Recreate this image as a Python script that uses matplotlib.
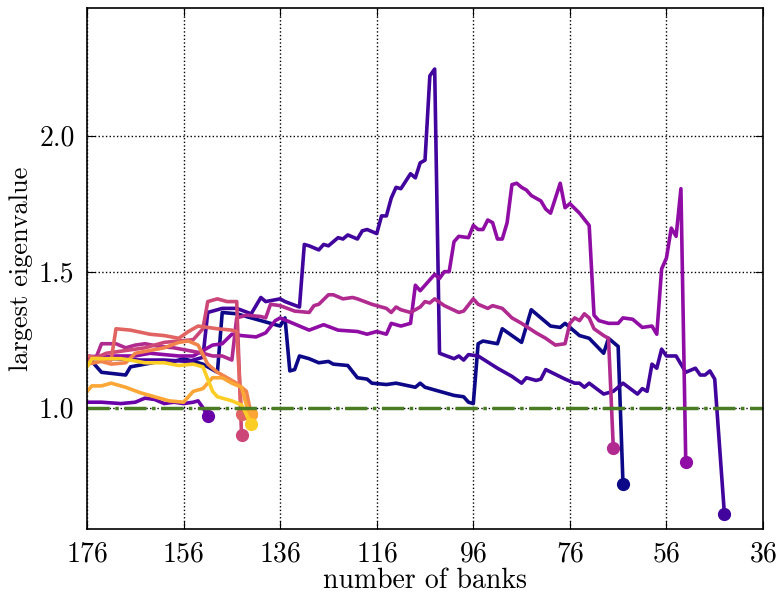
import matplotlib
matplotlib.use('Agg')
import matplotlib.pyplot as plt
import numpy as np

plt.rcParams['font.family'] = 'serif'
plt.rcParams['font.serif'] = ['cmr10']
plt.rcParams['mathtext.fontset'] = 'cm'
plt.rcParams['axes.formatter.use_mathtext'] = True

# (number of banks, largest eigenvalue), one list per run
banks0 = [176, 175, 173, 168, 167, 164, 161, 159, 156, 152, 149, 148, 145, 140, 136, 135, 134, 133, 132, 130,
          128, 126, 125, 122, 120, 118, 117, 114, 112, 108, 107, 106, 103, 100, 98, 97, 96, 95, 94, 91,
          90, 88, 86, 84, 82, 80, 78, 77, 74, 72, 69, 68, 66, 65]
vals0 = [1.17, 1.17, 1.13, 1.12, 1.15, 1.16, 1.17, 1.165, 1.18, 1.16, 1.13, 1.35, 1.345, 1.32, 1.30, 1.33, 1.135, 1.14, 1.19, 1.18,
         1.165, 1.17, 1.16, 1.155, 1.11, 1.105, 1.09, 1.085, 1.09, 1.075, 1.09, 1.075, 1.06, 1.045, 1.04, 1.02, 1.015, 1.235, 1.245, 1.235,
         1.29, 1.265, 1.24, 1.36, 1.33, 1.30, 1.295, 1.31, 1.265, 1.255, 1.20, 1.255, 1.225, 0.72]

banks1 = [176, 170, 165, 160, 155, 152, 151, 148, 145, 142, 140, 139, 136, 135, 132, 131, 130, 128, 127, 126,
          124, 123, 122, 120, 119, 118, 116, 115, 114, 113, 112, 111, 109, 108, 107, 106, 105, 104, 103, 100,
          99, 98, 97, 95, 91, 88, 86, 85, 83, 82, 81, 77, 75, 74, 73, 72, 69, 67, 65, 62,
          61, 60, 59, 58, 57, 56, 54, 53, 52, 50, 49, 48, 47, 46, 44]
vals1 = [1.18, 1.18, 1.175, 1.175, 1.17, 1.185, 1.35, 1.365, 1.365, 1.345, 1.405, 1.39, 1.40, 1.39, 1.37, 1.60, 1.595, 1.58, 1.60, 1.595,
         1.625, 1.62, 1.635, 1.62, 1.65, 1.655, 1.64, 1.705, 1.705, 1.77, 1.81, 1.805, 1.86, 1.845, 1.90, 1.91, 2.22, 2.245, 1.20, 1.18,
         1.19, 1.175, 1.195, 1.19, 1.145, 1.115, 1.09, 1.11, 1.10, 1.105, 1.14, 1.105, 1.09, 1.09, 1.075, 1.09, 1.05, 1.06, 1.09, 1.05,
         1.07, 1.06, 1.16, 1.145, 1.215, 1.19, 1.19, 1.16, 1.13, 1.145, 1.12, 1.12, 1.135, 1.105, 0.61]

banks2 = [176, 173, 169, 166, 164, 162, 160, 158, 156, 154, 153, 152, 151]
vals2 = [1.02, 1.02, 1.015, 1.02, 1.035, 1.03, 1.015, 1.02, 1.015, 1.02, 1.025, 1.0, 0.97]

banks3 = [176, 173, 170, 166, 163, 160, 157, 154, 152, 150, 148, 146, 144, 141, 139, 137, 136, 130, 127, 124,
          120, 118, 116, 114, 113, 111, 109, 108, 107, 105, 104, 103, 102, 101, 100, 99, 97, 96, 95, 94,
          93, 92, 91, 90, 89, 88, 87, 86, 85, 84, 82, 81, 80, 79, 78, 77, 76, 74, 72, 71,
          70, 68, 66, 65, 63, 61, 59, 58, 57, 56, 55, 54, 53, 52]
vals3 = [1.19, 1.185, 1.19, 1.19, 1.20, 1.195, 1.19, 1.19, 1.21, 1.23, 1.235, 1.27, 1.265, 1.26, 1.275, 1.32, 1.33, 1.285, 1.305, 1.285,
         1.28, 1.27, 1.28, 1.27, 1.31, 1.30, 1.31, 1.45, 1.43, 1.47, 1.49, 1.475, 1.50, 1.50, 1.61, 1.63, 1.625, 1.67, 1.655, 1.655,
         1.69, 1.68, 1.62, 1.62, 1.68, 1.82, 1.825, 1.81, 1.80, 1.78, 1.76, 1.73, 1.715, 1.77, 1.825, 1.735, 1.75, 1.715, 1.67, 1.34,
         1.32, 1.31, 1.31, 1.33, 1.325, 1.295, 1.30, 1.27, 1.51, 1.55, 1.66, 1.63, 1.805, 0.80]

banks4 = [176, 174, 173, 170, 168, 166, 164, 161, 158, 155, 152, 150, 148, 146, 145, 143, 140, 139, 138, 136,
          133, 130, 129, 128, 126, 125, 123, 121, 120, 117, 114, 113, 112, 111, 109, 107, 106, 105, 104, 102,
          99, 98, 96, 95, 93, 92, 90, 88, 86, 83, 81, 79, 77, 76, 75, 74, 73, 72, 71, 69,
          68, 67]
vals4 = [1.18, 1.19, 1.235, 1.235, 1.22, 1.23, 1.235, 1.225, 1.22, 1.21, 1.20, 1.19, 1.19, 1.175, 1.33, 1.34, 1.335, 1.33, 1.38, 1.375,
         1.355, 1.35, 1.375, 1.38, 1.415, 1.415, 1.40, 1.405, 1.40, 1.38, 1.365, 1.35, 1.37, 1.36, 1.35, 1.37, 1.39, 1.385, 1.40, 1.375,
         1.35, 1.355, 1.40, 1.38, 1.365, 1.375, 1.365, 1.33, 1.31, 1.275, 1.255, 1.23, 1.235, 1.31, 1.33, 1.32, 1.345, 1.33, 1.29, 1.265,
         1.255, 0.85]

banks5 = [176, 172, 168, 164, 160, 157, 154, 152, 151, 149, 147, 145, 144]
vals5 = [1.17, 1.20, 1.21, 1.22, 1.24, 1.245, 1.25, 1.29, 1.39, 1.40, 1.39, 1.39, 0.90]

banks6 = [176, 173, 171, 170, 167, 163, 160, 157, 155, 153, 151, 149, 146, 145, 144]
vals6 = [1.19, 1.18, 1.175, 1.29, 1.285, 1.27, 1.265, 1.255, 1.28, 1.30, 1.295, 1.29, 1.285, 1.28, 0.975]

banks7 = [176, 173, 171, 168, 166, 163, 160, 157, 155, 153, 151, 149, 147, 145, 143, 142]
vals7 = [1.16, 1.17, 1.16, 1.165, 1.20, 1.21, 1.22, 1.24, 1.245, 1.23, 1.16, 1.13, 1.11, 1.09, 1.06, 0.975]

banks8 = [176, 175, 173, 171, 168, 165, 162, 159, 156, 154, 152, 150, 148, 146, 144, 143, 142]
vals8 = [1.06, 1.08, 1.08, 1.09, 1.075, 1.055, 1.04, 1.025, 1.02, 1.06, 1.07, 1.11, 1.11, 1.09, 1.075, 1.01, 0.975]

banks9 = [176, 175, 172, 169, 167, 164, 160, 157, 154, 152, 150, 149, 146, 144, 142]
vals9 = [1.15, 1.18, 1.18, 1.18, 1.175, 1.165, 1.165, 1.155, 1.16, 1.15, 1.06, 1.04, 1.025, 1.01, 0.94]

runs = [(banks0, vals0), (banks1, vals1), (banks2, vals2), (banks3, vals3), (banks4, vals4),
        (banks5, vals5), (banks6, vals6), (banks7, vals7), (banks8, vals8), (banks9, vals9)]

xticks = [176, 156, 136, 116, 96, 76, 56, 36]
yticks = [1.0, 1.5, 2.0]

fig = plt.figure(figsize=(7.77, 5.95), dpi=100)
ax = fig.add_axes([0.112, 0.111, 0.870, 0.8756])

colors = plt.cm.plasma(np.linspace(0, 0.9, len(runs)))
for (b, v), c in zip(runs, colors):
    ax.plot(b, v, color=c, lw=2.6)
    ax.plot(b[-1], v[-1], 'o', color=c, ms=8.5, mec=c)

ax.axhline(1.0, color='#4a7d23', ls='-.', lw=2.5)

ax.set_xlim(176, 36)
ax.set_ylim(0.554, 2.4695)
ax.set_xticks(xticks)
ax.set_yticks(yticks)
ax.set_yticklabels(['1.0', '1.5', '2.0'])
ax.grid(True, color='black', ls=':', lw=1)
ax.tick_params(direction='in', top=True, right=True, labelsize=20, length=6, pad=9)
ax.set_xlabel('number of banks', fontsize=20, labelpad=0)
ax.set_ylabel('largest eigenvalue', fontsize=19, labelpad=4)
for s in ax.spines.values():
    s.set_linewidth(1.2)

fig.savefig('out.png', dpi=100)
